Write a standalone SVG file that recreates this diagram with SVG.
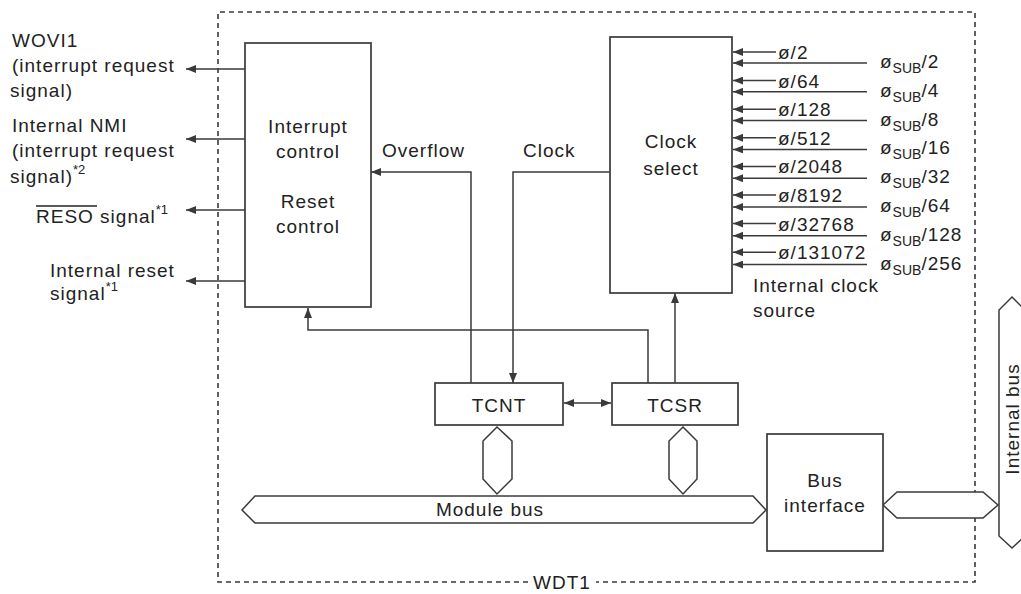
<svg xmlns="http://www.w3.org/2000/svg" width="1021" height="594" viewBox="0 0 1021 594">
<style>
text{font-family:"Liberation Sans",Arial,sans-serif;font-size:19px;fill:#222;letter-spacing:1px}
.c{text-anchor:middle}
.sup{font-size:13px;letter-spacing:0}
.sub{font-size:14px;letter-spacing:0}
.box{fill:#fff;stroke:#3a3a3a;stroke-width:1.7}
.ln{fill:none;stroke:#3a3a3a;stroke-width:1.5}
.bus{fill:#fff;stroke:#3a3a3a;stroke-width:1.5}
.dash{fill:none;stroke:#3a3a3a;stroke-width:1.6;stroke-dasharray:5 4}
</style>
<defs>
<marker id="arr" viewBox="0 0 10 8" refX="10" refY="4" markerWidth="10" markerHeight="8" markerUnits="userSpaceOnUse" orient="auto-start-reverse">
<path d="M0,0 L10,4 L0,8 z" fill="#3a3a3a"/>
</marker>
</defs>
<rect width="1021" height="594" fill="#fff"/>

<g id="wdt1-frame">
<path class="dash" d="M528,582 L218,582 L218,12 L975,12 L975,582 L596,582"/>
<text x="533" y="589">WDT1</text>
</g>

<g id="connectors">
<line class="ln" x1="245" y1="69" x2="186" y2="69" marker-end="url(#arr)"/>
<line class="ln" x1="245" y1="139" x2="186" y2="139" marker-end="url(#arr)"/>
<line class="ln" x1="245" y1="210" x2="186" y2="210" marker-end="url(#arr)"/>
<line class="ln" x1="245" y1="281" x2="186" y2="281" marker-end="url(#arr)"/>
<polyline class="ln" points="471,383 471,172 371,172" marker-end="url(#arr)"/>
<polyline class="ln" points="610,172 513,172 513,383" marker-end="url(#arr)"/>
<polyline class="ln" points="648,383 648,330 308,330 308,308" marker-end="url(#arr)"/>
<line class="ln" x1="675" y1="383" x2="675" y2="293" marker-end="url(#arr)"/>
<line class="ln" x1="564" y1="403" x2="611" y2="403" marker-start="url(#arr)" marker-end="url(#arr)"/>
<g id="clock-inputs">
<line class="ln" x1="776" y1="52" x2="733" y2="52" marker-end="url(#arr)"/>
<line class="ln" x1="867" y1="63" x2="733" y2="63" marker-end="url(#arr)"/>
<line class="ln" x1="776" y1="80.6" x2="733" y2="80.6" marker-end="url(#arr)"/>
<line class="ln" x1="867" y1="91.8" x2="733" y2="91.8" marker-end="url(#arr)"/>
<line class="ln" x1="776" y1="109.2" x2="733" y2="109.2" marker-end="url(#arr)"/>
<line class="ln" x1="867" y1="120.6" x2="733" y2="120.6" marker-end="url(#arr)"/>
<line class="ln" x1="776" y1="137.8" x2="733" y2="137.8" marker-end="url(#arr)"/>
<line class="ln" x1="867" y1="149.4" x2="733" y2="149.4" marker-end="url(#arr)"/>
<line class="ln" x1="776" y1="166.4" x2="733" y2="166.4" marker-end="url(#arr)"/>
<line class="ln" x1="867" y1="178.2" x2="733" y2="178.2" marker-end="url(#arr)"/>
<line class="ln" x1="776" y1="195" x2="733" y2="195" marker-end="url(#arr)"/>
<line class="ln" x1="867" y1="207" x2="733" y2="207" marker-end="url(#arr)"/>
<line class="ln" x1="776" y1="223.6" x2="733" y2="223.6" marker-end="url(#arr)"/>
<line class="ln" x1="867" y1="235.8" x2="733" y2="235.8" marker-end="url(#arr)"/>
<line class="ln" x1="776" y1="252.2" x2="733" y2="252.2" marker-end="url(#arr)"/>
<line class="ln" x1="867" y1="264.6" x2="733" y2="264.6" marker-end="url(#arr)"/>
</g>
<path class="bus" d="M497,427 L512,441 L512,479 L497,494 L483,479 L483,441 Z"/>
<path class="bus" d="M683,427 L697,441 L697,479 L683,494 L669,479 L669,441 Z"/>
<path class="bus" d="M883,505 L897,492 L983,492 L998,505 L983,518 L897,518 Z"/>
</g>

<g id="output-labels">
<text x="12" y="47">WOVI1</text>
<text x="12" y="72">(interrupt request</text>
<text x="10" y="97">signal)</text>
<text x="12" y="132">Internal NMI</text>
<text x="12" y="157">(interrupt request</text>
<text x="10" y="183">signal)<tspan class="sup" dy="-9">*2</tspan></text>
<text x="36" y="223">RESO signal<tspan class="sup" dy="-9">*1</tspan></text>
<line x1="36" y1="206" x2="97" y2="206" stroke="#222" stroke-width="1.3"/>
<text x="50" y="277">Internal reset</text>
<text x="50" y="300">signal<tspan class="sup" dy="-9">*1</tspan></text>
</g>

<g id="interrupt-reset-control">
<rect class="box" x="245" y="43" width="126" height="264"/>
<text class="c" x="308" y="133">Interrupt</text>
<text class="c" x="308" y="158">control</text>
<text class="c" x="308" y="208">Reset</text>
<text class="c" x="308" y="233">control</text>
</g>

<g id="signal-labels">
<text x="382" y="157">Overflow</text>
<text x="523" y="157">Clock</text>
</g>

<g id="clock-select">
<rect class="box" x="610" y="37" width="122" height="256"/>
<text class="c" x="671" y="148">Clock</text>
<text class="c" x="671" y="175">select</text>
</g>

<g id="internal-clock-source">
<text x="778" y="59">ø/2</text>
<text x="778" y="87.6">ø/64</text>
<text x="778" y="116.2">ø/128</text>
<text x="778" y="144.8">ø/512</text>
<text x="778" y="173.4">ø/2048</text>
<text x="778" y="202">ø/8192</text>
<text x="778" y="230.6">ø/32768</text>
<text x="778" y="259.2">ø/131072</text>
<text x="880" y="68">ø<tspan class="sub" dy="5">SUB</tspan><tspan dy="-5">/2</tspan></text>
<text x="880" y="96.8">ø<tspan class="sub" dy="5">SUB</tspan><tspan dy="-5">/4</tspan></text>
<text x="880" y="125.6">ø<tspan class="sub" dy="5">SUB</tspan><tspan dy="-5">/8</tspan></text>
<text x="880" y="154.4">ø<tspan class="sub" dy="5">SUB</tspan><tspan dy="-5">/16</tspan></text>
<text x="880" y="183.2">ø<tspan class="sub" dy="5">SUB</tspan><tspan dy="-5">/32</tspan></text>
<text x="880" y="212">ø<tspan class="sub" dy="5">SUB</tspan><tspan dy="-5">/64</tspan></text>
<text x="880" y="240.8">ø<tspan class="sub" dy="5">SUB</tspan><tspan dy="-5">/128</tspan></text>
<text x="880" y="269.6">ø<tspan class="sub" dy="5">SUB</tspan><tspan dy="-5">/256</tspan></text>
<text x="753" y="292">Internal clock</text>
<text x="753" y="317">source</text>
</g>

<g id="tcnt">
<rect class="box" x="435" y="383" width="128" height="42"/>
<text class="c" x="499" y="412">TCNT</text>
</g>

<g id="tcsr">
<rect class="box" x="612" y="383" width="126" height="42"/>
<text class="c" x="675" y="412">TCSR</text>
</g>

<g id="module-bus">
<path class="bus" d="M242,510 L255,496 L753,496 L766,510 L753,523 L255,523 Z"/>
<text class="c" x="490" y="516">Module bus</text>
</g>

<g id="bus-interface">
<rect class="box" x="767" y="434" width="116" height="117"/>
<text class="c" x="825" y="487">Bus</text>
<text class="c" x="825" y="512">interface</text>
</g>

<g id="internal-bus">
<path class="bus" d="M1012,297 L1025,310 L1025,536 L1012,548 L999,536 L999,310 Z"/>
<text class="c" transform="translate(1019,419) rotate(-90)">Internal bus</text>
</g>
</svg>
